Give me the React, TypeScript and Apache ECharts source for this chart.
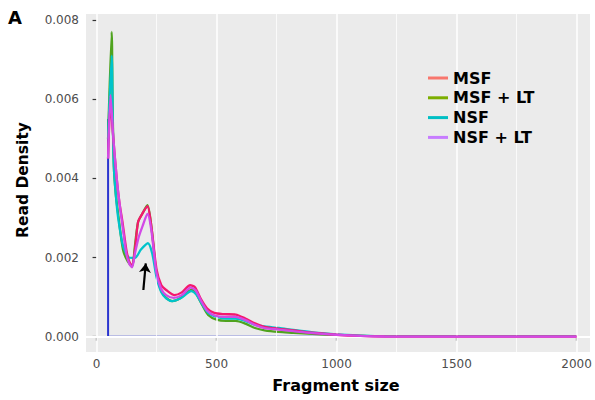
import React, { useEffect, useRef } from "react";
import * as echarts from "echarts";

// ---- data (Fragment size vs Read Density) ----
const msfSize = [48, 58, 70, 84, 95, 108, 124, 136, 148, 160, 173, 190, 212, 228, 250, 270, 290, 325, 355, 390, 410, 435, 460, 490, 530, 580, 620, 660, 700, 760, 820, 900, 1000, 1100, 1200, 1500, 2000];
const msfDensity = [0.0045, 0.0059, 0.005, 0.004, 0.0034, 0.0029, 0.0022, 0.0019, 0.00178, 0.0022, 0.0029, 0.0031, 0.0033, 0.0028, 0.0017, 0.0013, 0.00118, 0.00105, 0.00112, 0.0013, 0.00125, 0.00095, 0.00072, 0.0006, 0.00057, 0.00056, 0.00046, 0.00034, 0.00025, 0.0002, 0.00016, 0.0001, 0.00005, 0.00002, 0.000005, 0, 0];

const msfLtSize = [48, 63, 67, 72, 80, 90, 110, 130, 148, 160, 173, 190, 212, 228, 250, 270, 290, 315, 350, 395, 415, 440, 465, 500, 540, 580, 620, 660, 700, 760, 820, 900, 1000, 1100, 1200, 1500, 2000];
const msfLtDensity = [0.005, 0.0077, 0.0058, 0.0043, 0.0036, 0.0031, 0.0022, 0.0019, 0.00178, 0.0023, 0.0029, 0.0031, 0.00332, 0.0028, 0.0016, 0.00115, 0.00098, 0.0009, 0.00098, 0.00118, 0.00108, 0.0008, 0.00055, 0.00043, 0.0004, 0.0004, 0.00033, 0.00022, 0.00016, 0.00012, 0.0001, 0.00007, 0.00004, 0.00002, 0.000005, 0, 0];

const nsfSize = [48, 63, 67, 72, 80, 90, 110, 135, 160, 185, 214, 232, 250, 270, 290, 315, 350, 395, 415, 440, 465, 500, 540, 580, 620, 660, 700, 760, 820, 900, 1000, 1100, 1200, 1500, 2000];
const nsfDensity = [0.005, 0.0071, 0.0056, 0.0043, 0.0036, 0.003, 0.0023, 0.002, 0.00199, 0.0022, 0.00236, 0.0021, 0.0015, 0.00112, 0.00097, 0.0009, 0.00097, 0.00115, 0.00107, 0.00082, 0.0006, 0.0005, 0.00046, 0.00046, 0.0004, 0.0003, 0.00026, 0.00022, 0.00017, 0.00011, 0.00006, 0.00003, 0.00001, 0, 0];

const nsfLtSize = [48, 58, 70, 84, 95, 108, 124, 136, 148, 160, 175, 192, 212, 228, 250, 270, 290, 322, 355, 392, 412, 438, 462, 495, 535, 580, 620, 660, 700, 760, 820, 900, 1000, 1100, 1200, 1500, 2000];
const nsfLtDensity = [0.0045, 0.0061, 0.005, 0.004, 0.0034, 0.0028, 0.0021, 0.00185, 0.00175, 0.0021, 0.0025, 0.0028, 0.0031, 0.0027, 0.0016, 0.0012, 0.00105, 0.00098, 0.00105, 0.00124, 0.00118, 0.00088, 0.00065, 0.00053, 0.0005, 0.0005, 0.00042, 0.0003, 0.00022, 0.00018, 0.00014, 0.00009, 0.00005, 0.00002, 0.000005, 0, 0];

// density outline (left edge + baseline)
const outlineSize = [48, 48, 2000];
const outlineDensity = [0.0055, 0, 0];

const seriesNames = ["MSF", "MSF + LT", "NSF", "NSF + LT"];
const legendColors = ["#F8766D", "#7CAE00", "#00BFC4", "#C77CFF"];
const lineColors = ["#F5186E", "#4FA31E", "#00C3CB", "#D24AE6"];

const xTicks = [0, 500, 1000, 1500, 2000];
const xMinor = [250, 750, 1250, 1750];
const yTicks = [0, 0.002, 0.004, 0.006, 0.008];
const yMinor = [0.001, 0.003, 0.005, 0.007];

// arrow annotation (data coords)
const arrowFrom = [195, 0.00118];
const arrowTo = [205, 0.00185];

const zip = (xs: number[], ys: number[]) => xs.map((x, i) => [x, ys[i]]);

export default function App() {
  const ref = useRef<HTMLDivElement>(null);
  useEffect(() => {
    if (!ref.current) return;
    const chart = echarts.init(ref.current, undefined, { renderer: "svg" });
    const font = "DejaVu Sans";
    const seriesData = [
      zip(msfSize, msfDensity),
      zip(msfLtSize, msfLtDensity),
      zip(nsfSize, nsfDensity),
      zip(nsfLtSize, nsfLtDensity),
    ];
    const drawOrder = [1, 2, 0, 3];
    const gridLines = [
      ...xTicks.map((v) => ({ xAxis: v, lineStyle: { width: 1.5 } })),
      ...xMinor.map((v) => ({ xAxis: v, lineStyle: { width: 0.75 } })),
      ...yTicks.map((v) => ({ yAxis: v, lineStyle: { width: 1.5 } })),
      ...yMinor.map((v) => ({ yAxis: v, lineStyle: { width: 0.75 } })),
    ];
    chart.setOption({
      animation: false,
      grid: {
        left: 86,
        right: 5,
        top: 14,
        bottom: 48,
        show: true,
        backgroundColor: "#EBEBEB",
        borderWidth: 0,
      },
      xAxis: {
        type: "value",
        min: -44,
        max: 2056,
        axisLine: { show: false },
        splitLine: { show: false },
        axisTick: {
          show: true,
          customValues: xTicks,
          length: 4,
          lineStyle: { color: "#333333", width: 1.2 },
        },
        axisLabel: {
          customValues: xTicks,
          formatter: (v: number) => String(v),
          color: "#4D4D4D",
          fontSize: 12,
          fontFamily: font,
          margin: 6,
        },
      },
      yAxis: {
        type: "value",
        min: -0.000386,
        max: 0.00815,
        axisLine: { show: false },
        splitLine: { show: false },
        axisTick: {
          show: true,
          customValues: yTicks,
          length: 4,
          lineStyle: { color: "#333333", width: 1.2 },
        },
        axisLabel: {
          customValues: yTicks,
          formatter: (v: number) => v.toFixed(3),
          color: "#4D4D4D",
          fontSize: 12,
          fontFamily: font,
          margin: 7,
        },
      },
      legend: {
        orient: "vertical",
        left: 423,
        top: 65,
        z: 50,
        zlevel: 0,
        itemWidth: 20,
        itemHeight: 3,
        itemGap: 3.8,
        textStyle: {
          fontFamily: font,
          fontWeight: "bold",
          fontSize: 16,
          color: "#000000",
          lineHeight: 16,
        },
        data: seriesNames.map((n, i) => ({
          name: n,
          icon: "rect",
          itemStyle: { color: legendColors[i] },
        })),
      },
      graphic: [
        {
          type: "text",
          x: 8,
          y: 17,
          style: {
            text: "A",
            font: `bold 18px "${font}"`,
            fill: "#000",
            textAlign: "left",
            textVerticalAlign: "middle",
          },
        },
        {
          type: "text",
          x: 22.5,
          y: 180,
          rotation: Math.PI / 2,
          style: {
            text: "Read Density",
            font: `bold 15.5px "${font}"`,
            fill: "#000",
            textAlign: "center",
            textVerticalAlign: "middle",
          },
        },
        {
          type: "text",
          x: 336,
          y: 385,
          style: {
            text: "Fragment size",
            font: `bold 16px "${font}"`,
            fill: "#000",
            textAlign: "center",
            textVerticalAlign: "middle",
          },
        },
      ],
      series: [
        {
          type: "line",
          name: "grid",
          data: [[0, 0]],
          symbol: "none",
          lineStyle: { opacity: 0 },
          silent: true,
          z: 1,
          markLine: {
            silent: true,
            symbol: ["none", "none"],
            label: { show: false },
            lineStyle: { color: "#FFFFFF", type: "solid" },
            emphasis: { disabled: true },
            data: gridLines,
          },
        },
        {
          type: "line",
          name: "outline",
          data: zip(outlineSize, outlineDensity),
          symbol: "none",
          lineStyle: { color: "#2B35CF", width: 2 },
          silent: true,
          z: 2,
        },
        ...drawOrder.map((i, k) => ({
          type: "line",
          name: seriesNames[i],
          data: seriesData[i],
          symbol: "none",
          smooth: 0.25,
          color: legendColors[i],
          lineStyle: { color: lineColors[i], width: 2.3 },
          z: 3 + k,
        })),
        {
          type: "line",
          name: "arrow",
          data: [],
          symbol: "none",
          z: 10,
          markLine: {
            silent: true,
            symbol: ["none", "arrow"],
            symbolSize: 9,
            label: { show: false },
            lineStyle: { color: "#000000", width: 2.2, type: "solid" },
            data: [[{ coord: arrowFrom }, { coord: arrowTo }]],
          },
        },
      ],
    });
    return () => chart.dispose();
  }, []);
  return (
    <div
      ref={ref}
      style={{ position: "fixed", left: 0, top: 0, width: 595, height: 400, background: "#fff" }}
    />
  );
}
